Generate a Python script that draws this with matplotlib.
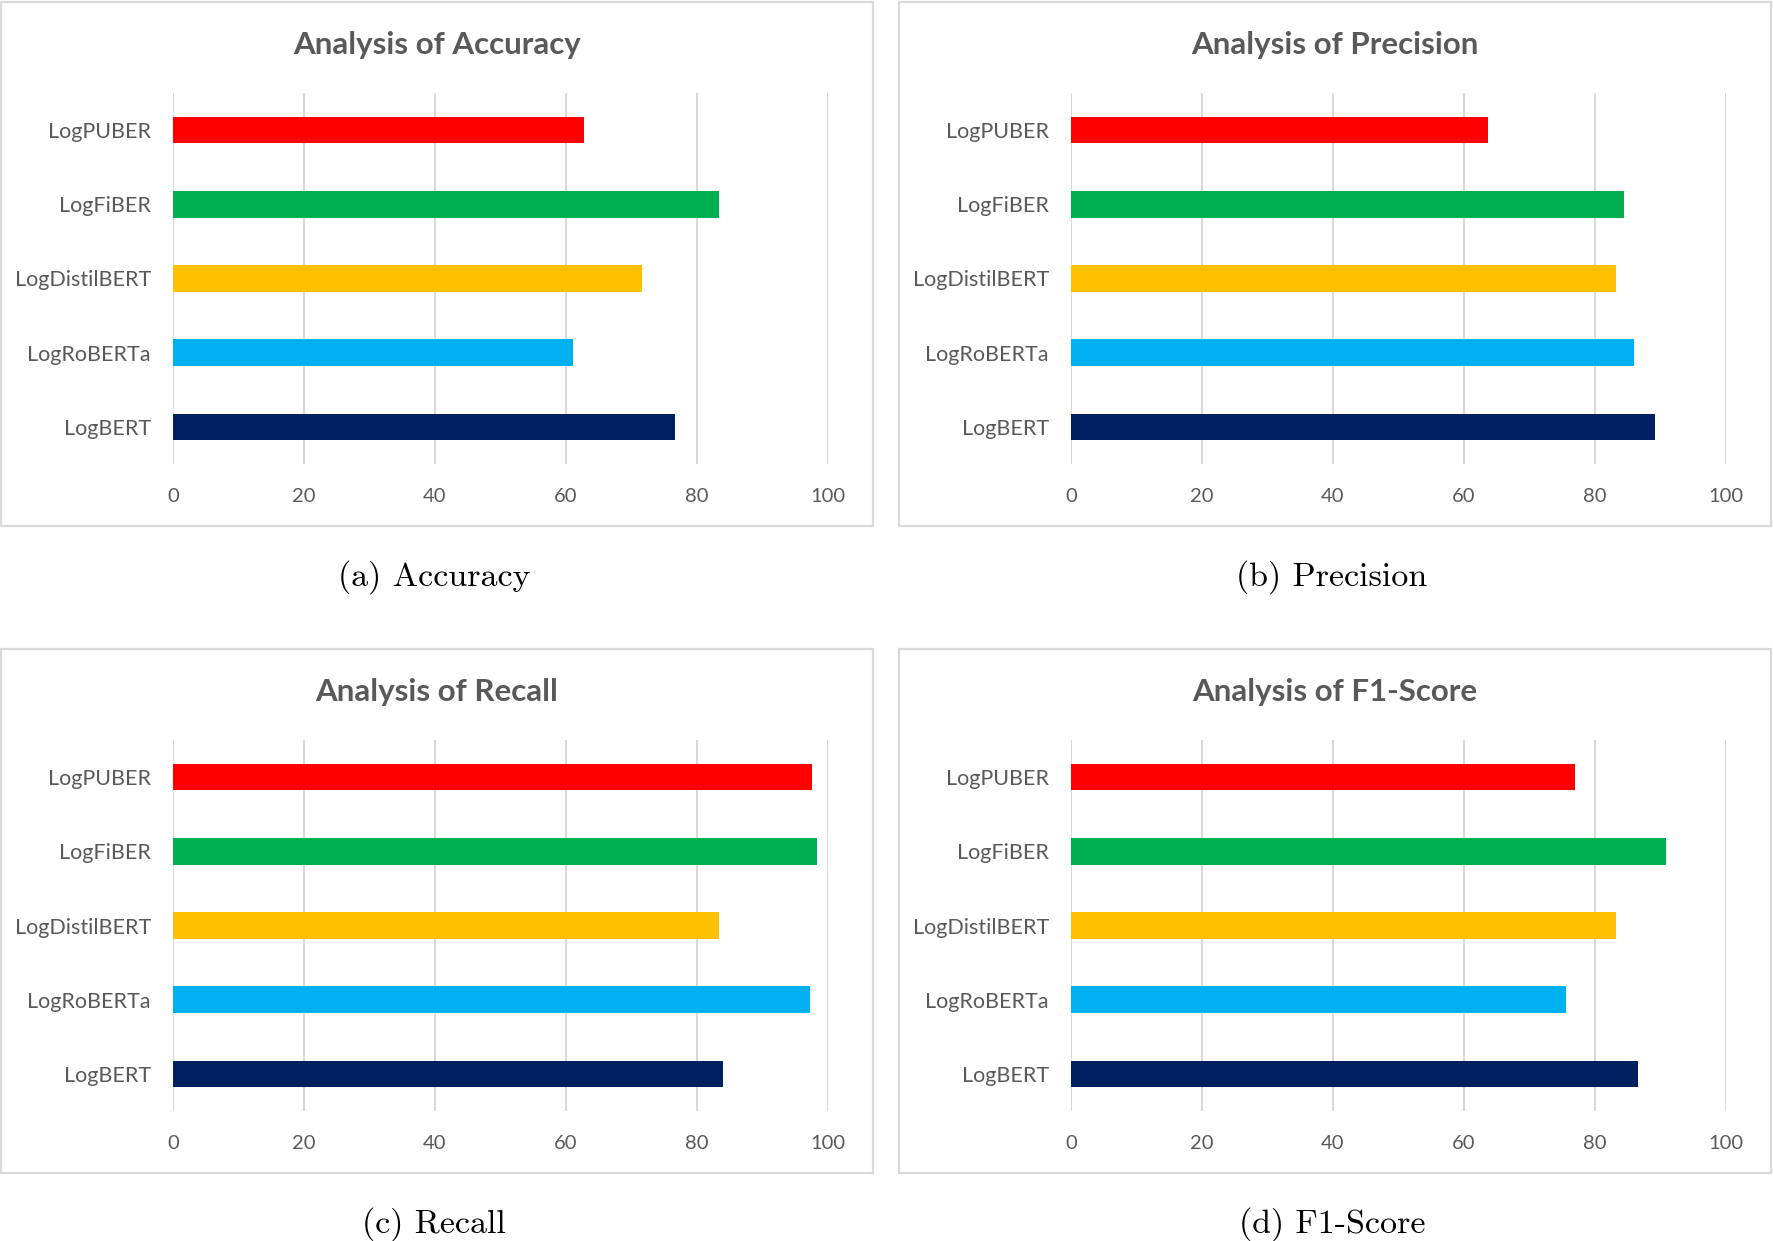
import matplotlib.pyplot as plt
from matplotlib.patches import Rectangle

# data
models = ['LogBERT', 'LogRoBERTa', 'LogDistilBERT', 'LogFiBER', 'LogPUBER']
colors = ['#002060', '#00B0F0', '#FFC000', '#00B050', '#FF0000']
accuracy = [76.7, 61.0, 71.6, 83.3, 62.8]
precision = [89.2, 85.9, 83.2, 84.5, 63.6]
recall = [83.9, 97.3, 83.3, 98.3, 97.5]
f1_score = [86.6, 75.6, 83.2, 90.8, 77.0]
metric_names = ['Accuracy', 'Precision', 'Recall', 'F1-Score']
captions = ['(a) Accuracy', '(b) Precision', '(c) Recall', '(d) F1-Score']
xticks = [0, 20, 40, 60, 80, 100]

W, H = 1773, 1241
fig = plt.figure(figsize=(W / 100, H / 100), dpi=100)
fig.patch.set_facecolor('white')

text_gray = '#595959'
grid_gray = '#D9D9D9'
sans = ['Lato', 'DejaVu Sans']

series = [accuracy, precision, recall, f1_score]
# panel offsets in pixels (x, y)
offsets = [(0, 0), (898, 0), (0, 647), (898, 647)]

for i, (vals, name, cap) in enumerate(zip(series, metric_names, captions)):
    dx, dy = offsets[i]

    # outer chart box
    bx0, bx1, by0, by1 = 1 + dx, 873 + dx, 2 + dy, 526 + dy
    fig.patches.append(Rectangle((bx0 / W, 1 - by1 / H), (bx1 - bx0) / W, (by1 - by0) / H,
                                 transform=fig.transFigure, facecolor='none',
                                 edgecolor=grid_gray, linewidth=1.6, zorder=-1))

    # plot area
    left, right, top, bottom = 173 + dx, 828 + dx, 93 + dy, 464 + dy
    ax = fig.add_axes([left / W, 1 - bottom / H, (right - left) / W, (bottom - top) / H])
    ax.set_facecolor('none')
    ax.barh(range(len(models)), vals, height=0.36, color=colors, zorder=3)
    ax.set_xlim(0, 100)
    ax.set_ylim(-0.5, len(models) - 0.5)
    ax.set_xticks(xticks)
    ax.set_yticks(range(len(models)))
    ax.set_yticklabels(models)
    ax.grid(axis='x', color=grid_gray, linewidth=1.5, zorder=0)
    ax.set_axisbelow(True)
    for s in ax.spines.values():
        s.set_visible(False)
    ax.tick_params(axis='both', length=0, labelcolor=text_gray)
    ax.tick_params(axis='x', pad=17, labelsize=14.5)
    ax.tick_params(axis='y', pad=16, labelsize=15.5)
    for lab in ax.get_xticklabels() + ax.get_yticklabels():
        lab.set_family(sans)

    cx = (bx0 + bx1) / 2 / W
    fig.text(cx, 1 - (45 + dy) / H, 'Analysis of ' + name, ha='center', va='center',
             fontsize=22.5, fontweight='bold', color=text_gray, family=sans)
    fig.text(cx - 3 / W, 1 - (577 + dy) / H, cap, ha='center', va='center',
             fontsize=24.5, color='black', family=['cmr10', 'DejaVu Serif'])

fig.savefig('out.png', dpi=100, facecolor='white')
